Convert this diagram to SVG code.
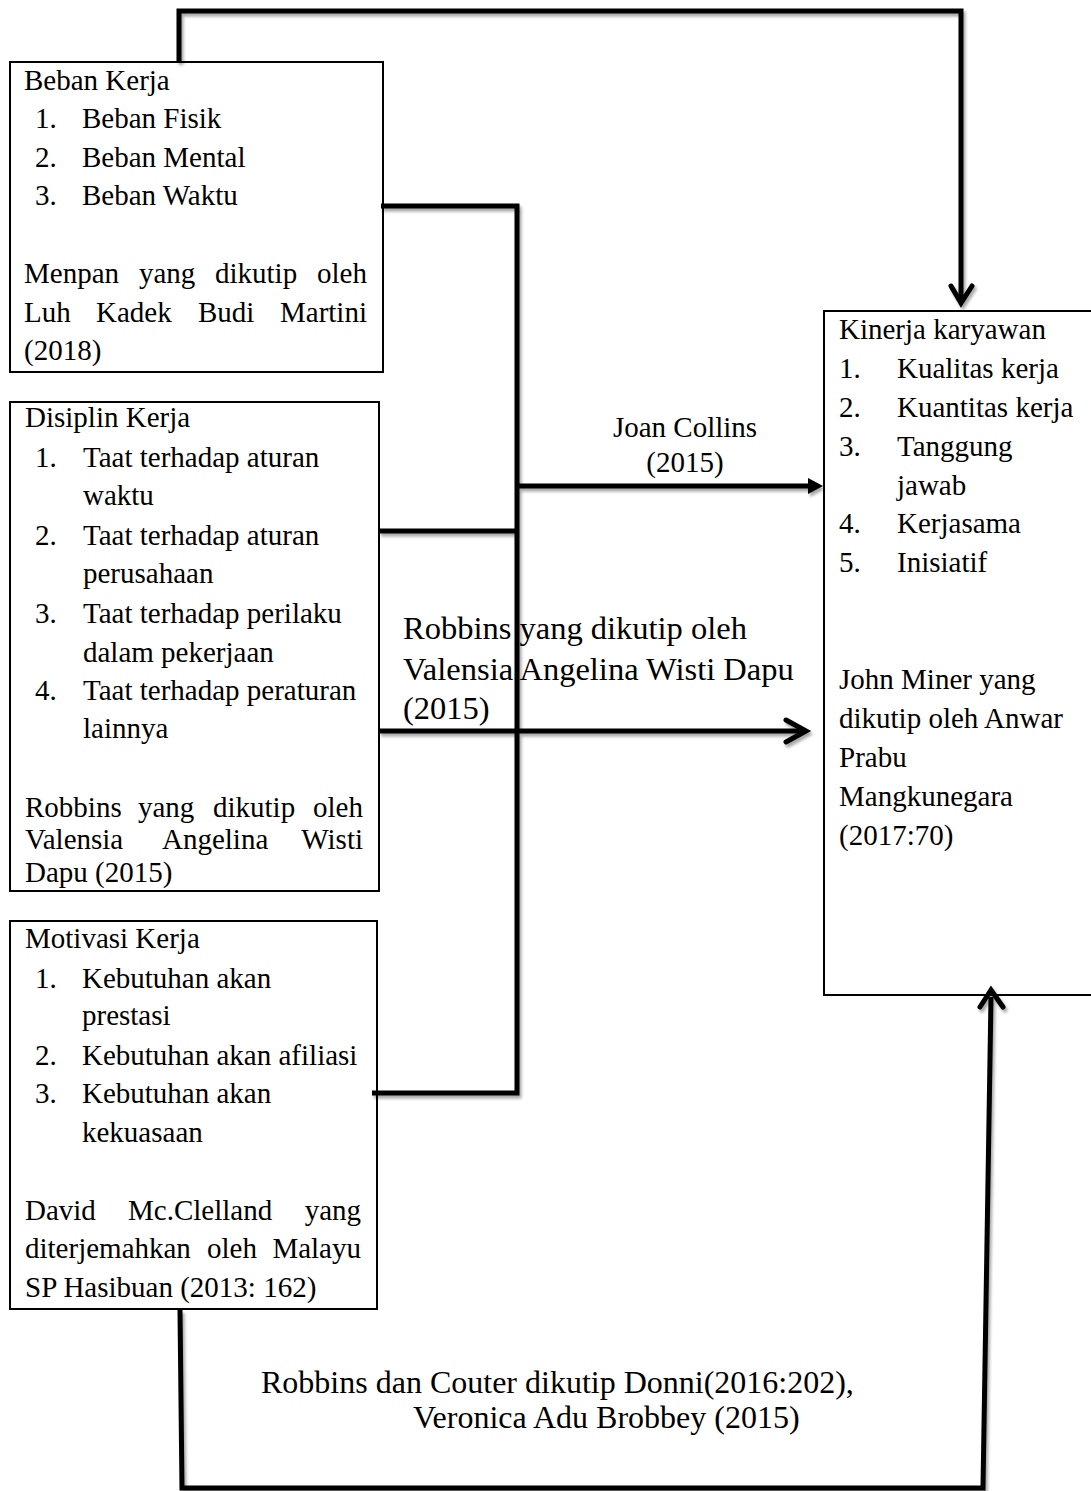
<svg xmlns="http://www.w3.org/2000/svg" width="1091" height="1491" viewBox="0 0 1091 1491">
<style>
text{font-family:"Liberation Serif","Times New Roman",serif;fill:#000}
.t{font-size:29px}
.m{font-size:32.5px}
.b{font-size:32px}
.e{text-anchor:end}
.box{fill:#fff;stroke:#000;stroke-width:2}
.ln{fill:none;stroke:#000;stroke-width:5;stroke-linejoin:miter;stroke-linecap:butt}
.hd{fill:none;stroke:#000;stroke-width:5;stroke-linejoin:miter;stroke-linecap:round}
</style>
<defs>
<filter id="sh" x="-10%" y="-10%" width="120%" height="120%">
<feDropShadow dx="2" dy="3" stdDeviation="1.5" flood-color="#000" flood-opacity="0.35"/>
</filter>
</defs>
<rect width="1091" height="1491" fill="#fff"/>

<g id="beban-kerja">
<rect class="box" x="10" y="62" width="373" height="310"/>
<text class="t" x="24" y="90">Beban Kerja</text>
<text class="t" x="35" y="128">1.</text><text class="t" x="82" y="128">Beban Fisik</text>
<text class="t" x="35" y="167">2.</text><text class="t" x="82" y="167">Beban Mental</text>
<text class="t" x="35" y="205">3.</text><text class="t" x="82" y="205">Beban Waktu</text>
<text class="t" x="24" y="283">Menpan</text><text class="t" x="139" y="283">yang</text><text class="t" x="215" y="283">dikutip</text><text class="t e" x="367" y="283">oleh</text>
<text class="t" x="24" y="322">Luh</text><text class="t" x="96" y="322">Kadek</text><text class="t" x="198" y="322">Budi</text><text class="t e" x="367" y="322">Martini</text>
<text class="t" x="24" y="360">(2018)</text>
</g>

<g id="disiplin-kerja">
<rect class="box" x="10" y="402" width="369" height="489"/>
<text class="t" x="25" y="427">Disiplin Kerja</text>
<text class="t" x="35" y="467">1.</text><text class="t" x="83" y="467">Taat terhadap aturan</text>
<text class="t" x="83" y="505">waktu</text>
<text class="t" x="35" y="545">2.</text><text class="t" x="83" y="545">Taat terhadap aturan</text>
<text class="t" x="83" y="583">perusahaan</text>
<text class="t" x="35" y="623">3.</text><text class="t" x="83" y="623">Taat terhadap perilaku</text>
<text class="t" x="83" y="662">dalam pekerjaan</text>
<text class="t" x="35" y="700">4.</text><text class="t" x="83" y="700">Taat terhadap peraturan</text>
<text class="t" x="83" y="738">lainnya</text>
<text class="t" x="25" y="817">Robbins</text><text class="t" x="138" y="817">yang</text><text class="t" x="213" y="817">dikutip</text><text class="t e" x="363" y="817">oleh</text>
<text class="t" x="25" y="849">Valensia</text><text class="t" x="162" y="849">Angelina</text><text class="t e" x="363" y="849">Wisti</text>
<text class="t" x="25" y="882">Dapu (2015)</text>
</g>

<g id="motivasi-kerja">
<rect class="box" x="10" y="921" width="367" height="388"/>
<text class="t" x="25" y="948">Motivasi Kerja</text>
<text class="t" x="35" y="988">1.</text><text class="t" x="82" y="988">Kebutuhan akan</text>
<text class="t" x="82" y="1025">prestasi</text>
<text class="t" x="35" y="1065">2.</text><text class="t" x="82" y="1065">Kebutuhan akan afiliasi</text>
<text class="t" x="35" y="1103">3.</text><text class="t" x="82" y="1103">Kebutuhan akan</text>
<text class="t" x="82" y="1142">kekuasaan</text>
<text class="t" x="25" y="1220">David</text><text class="t" x="128" y="1220">Mc.Clelland</text><text class="t e" x="361" y="1220">yang</text>
<text class="t" x="25" y="1258">diterjemahkan</text><text class="t" x="207" y="1258">oleh</text><text class="t e" x="361" y="1258">Malayu</text>
<text class="t" x="25" y="1297">SP Hasibuan (2013: 162)</text>
</g>

<g id="kinerja-karyawan">
<rect class="box" x="824" y="311" width="280" height="684"/>
<text class="t" x="839" y="339">Kinerja karyawan</text>
<text class="t" x="839" y="378">1.</text><text class="t" x="897" y="378">Kualitas kerja</text>
<text class="t" x="839" y="417">2.</text><text class="t" x="897" y="417">Kuantitas kerja</text>
<text class="t" x="839" y="456">3.</text><text class="t" x="897" y="456">Tanggung</text>
<text class="t" x="897" y="495">jawab</text>
<text class="t" x="839" y="533">4.</text><text class="t" x="897" y="533">Kerjasama</text>
<text class="t" x="839" y="572">5.</text><text class="t" x="897" y="572">Inisiatif</text>
<text class="t" x="839" y="689">John Miner yang</text>
<text class="t" x="839" y="728">dikutip oleh Anwar</text>
<text class="t" x="839" y="767">Prabu</text>
<text class="t" x="839" y="806">Mangkunegara</text>
<text class="t" x="839" y="845">(2017:70)</text>
</g>

<g id="labels">
<text class="t" x="685" y="437" text-anchor="middle">Joan Collins</text>
<text class="t" x="685" y="472" text-anchor="middle">(2015)</text>
<text class="m" x="403" y="639">Robbins yang dikutip oleh</text>
<text class="m" x="403" y="680">Valensia Angelina Wisti Dapu</text>
<text class="m" x="403" y="719">(2015)</text>
<text class="b" x="261" y="1393">Robbins dan Couter dikutip Donni(2016:202),</text>
<text class="b" x="413" y="1428">Veronica Adu Brobbey (2015)</text>
</g>

<g id="connectors" filter="url(#sh)">
<path class="ln" d="M179,62 V11 H961 V300"/>
<path class="hd" d="M951,286 L961,303 L972,286"/>
<path class="ln" d="M381,206 H517 V1093 H372"/>
<path class="ln" d="M379,531 H517"/>
<path class="ln" d="M517,486 H810"/>
<path d="M808,478 L823,486 L808,494 Z" fill="#000"/>
<path class="ln" d="M379,731 H805"/>
<path class="hd" d="M786,720 L806,731 L786,742"/>
<path class="ln" d="M180,1310 L182,1488 H983 L991,997"/>
<path class="hd" d="M980,1007 L991,990 L1003,1007"/>
</g>
</svg>
